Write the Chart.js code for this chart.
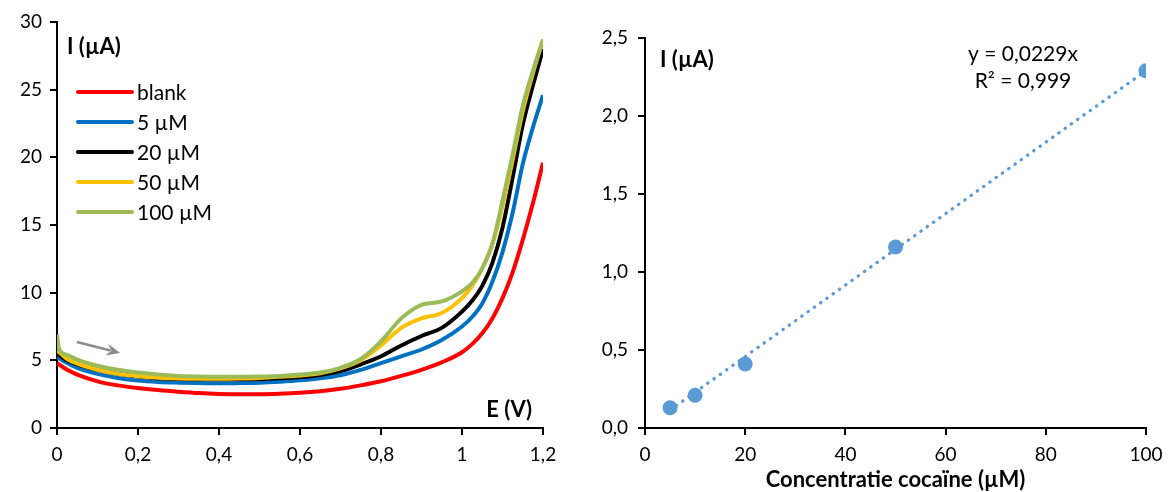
<!DOCTYPE html>
<html><head><meta charset="utf-8">
<script src="https://cdn.jsdelivr.net/npm/chart.js@4.4.0/dist/chart.umd.min.js"></script>
<style>
html,body{margin:0;padding:0;background:#fff;width:1172px;height:492px;overflow:hidden}
#c1{position:absolute;left:0;top:0}
#c2{position:absolute;left:580px;top:0}
</style></head><body>
<canvas id="c1" width="580" height="492"></canvas>
<canvas id="c2" width="592" height="492"></canvas>
<script>
// ---- Left chart: voltammograms ----
const potential = [0, 0.005, 0.025, 0.05, 0.1, 0.15, 0.2, 0.25, 0.3, 0.35, 0.4, 0.45, 0.5, 0.55, 0.6, 0.65, 0.7, 0.75, 0.8, 0.85, 0.9, 0.95, 1.0, 1.025, 1.05, 1.075, 1.1, 1.125, 1.15, 1.175, 1.2];
const blank  = [4.8, 4.7, 4.3, 3.95, 3.45, 3.15, 2.95, 2.8, 2.68, 2.58, 2.52, 2.5, 2.5, 2.53, 2.6, 2.72, 2.9, 3.15, 3.45, 3.85, 4.3, 4.85, 5.6, 6.2, 7.0, 8.1, 9.6, 11.5, 13.9, 16.6, 19.6];
const c5uM   = [5.25, 5.15, 4.8, 4.45, 4.0, 3.7, 3.5, 3.4, 3.35, 3.32, 3.3, 3.32, 3.35, 3.42, 3.52, 3.68, 3.9, 4.3, 4.8, 5.3, 5.8, 6.5, 7.5, 8.2, 9.2, 10.8, 13.0, 15.9, 19.5, 22.2, 24.6];
const c20uM  = [5.5, 5.4, 5.0, 4.7, 4.3, 4.0, 3.8, 3.68, 3.62, 3.6, 3.6, 3.6, 3.62, 3.68, 3.76, 3.92, 4.2, 4.7, 5.3, 6.1, 6.8, 7.4, 8.6, 9.4, 10.5, 12.2, 14.8, 18.5, 22.4, 25.3, 28.0];
const c50uM  = [5.7, 5.6, 5.1, 4.75, 4.3, 4.0, 3.82, 3.72, 3.66, 3.64, 3.64, 3.66, 3.7, 3.78, 3.88, 4.05, 4.4, 5.0, 6.1, 7.4, 8.1, 8.5, 9.6, 10.5, 11.8, 13.6, 16.4, 19.8, 23.4, 26.2, 28.7];
const c100uM = [6.9, 5.85, 5.4, 5.05, 4.6, 4.3, 4.1, 3.95, 3.85, 3.8, 3.78, 3.78, 3.8, 3.85, 3.95, 4.1, 4.45, 5.1, 6.4, 8.1, 9.1, 9.35, 10.1, 10.7, 11.8, 13.6, 16.8, 20.2, 23.8, 26.4, 28.7];
const seriesNames = ['blank', '5 µM', '20 µM', '50 µM', '100 µM'];
const seriesColors = ['#FF0000', '#0070C0', '#000000', '#FFC000', '#9BBB59'];
const arrowFrom = [0.049, 6.35];
const arrowTo = [0.156, 5.54];

// ---- Right chart: calibration ----
const concentrations = [5, 10, 20, 50, 100];
const peakCurrents = [0.13, 0.21, 0.41, 1.16, 2.29];
const trendX = [5, 100];
const trendY = [0.1145, 2.29];
const equationLines = ['y = 0,0229x', 'R² = 0,999'];

const FONT = 'Lato, "Open Sans", sans-serif';
Chart.defaults.font.family = FONT;
Chart.defaults.color = '#000';

const comma = v => String(v).replace('.', ',');

function axisCommon(extra) {
  return Object.assign({
    type: 'linear',
    grid: { drawOnChartArea: false, drawTicks: true, tickLength: 7, color: '#000', lineWidth: 2 },
    border: { color: '#000', width: 2 }
  }, extra);
}

const allSeries = [blank, c5uM, c20uM, c50uM, c100uM];
const leftDatasets = allSeries.map((arr, i) => ({
  label: seriesNames[i],
  data: potential.map((e, k) => ({ x: e, y: arr[k] })),
  borderColor: seriesColors[i],
  backgroundColor: seriesColors[i],
  borderWidth: 4,
  pointRadius: 0,
  cubicInterpolationMode: 'monotone',
  fill: false,
  order: 5 - i
}));

const leftDeco = {
  id: 'leftDeco',
  afterDatasetsDraw(chart) {
    const { ctx, chartArea: a, scales } = chart;
    ctx.save();
    // arrow
    const x1 = scales.x.getPixelForValue(arrowFrom[0]), y1 = scales.y.getPixelForValue(arrowFrom[1]);
    const x2 = scales.x.getPixelForValue(arrowTo[0]), y2 = scales.y.getPixelForValue(arrowTo[1]);
    const ang = Math.atan2(y2 - y1, x2 - x1);
    const hl = 14, hw = 6;
    const bx = x2 - hl * Math.cos(ang), by = y2 - hl * Math.sin(ang);
    ctx.strokeStyle = '#8C8C8C'; ctx.fillStyle = '#8C8C8C'; ctx.lineWidth = 2.5;
    ctx.beginPath(); ctx.moveTo(x1, y1); ctx.lineTo(bx + 4 * Math.cos(ang), by + 4 * Math.sin(ang)); ctx.stroke();
    ctx.beginPath();
    ctx.moveTo(x2, y2);
    ctx.lineTo(bx - hw * Math.sin(ang), by + hw * Math.cos(ang));
    ctx.lineTo(bx + 5 * Math.cos(ang), by + 5 * Math.sin(ang));
    ctx.lineTo(bx + hw * Math.sin(ang), by - hw * Math.cos(ang));
    ctx.closePath(); ctx.fill();
    // axis labels
    ctx.fillStyle = '#000';
    ctx.font = 'bold 22px ' + FONT;
    ctx.textBaseline = 'middle';
    ctx.textAlign = 'left';
    ctx.fillText('I (µA)', a.left + 10, a.top + 25);
    ctx.textAlign = 'right';
    ctx.fillText('E (V)', a.right - 11, a.bottom - 18);
    // legend
    ctx.font = '21px ' + FONT;
    ctx.textAlign = 'left';
    seriesNames.forEach((n, i) => {
      const y = a.top + 70 + i * 30;
      ctx.strokeStyle = seriesColors[i]; ctx.lineWidth = 4; ctx.lineCap = 'round';
      ctx.beginPath(); ctx.moveTo(a.left + 21, y); ctx.lineTo(a.left + 75, y); ctx.stroke();
      ctx.fillStyle = '#000';
      ctx.fillText(n, a.left + 80, y + 1);
    });
    ctx.restore();
  }
};

new Chart(document.getElementById('c1'), {
  type: 'line',
  data: { datasets: leftDatasets },
  options: {
    responsive: false, animation: false,
    layout: { padding: { top: 22, right: 37, left: 0, bottom: 0 } },
    plugins: { legend: { display: false }, tooltip: { enabled: false } },
    scales: {
      x: axisCommon({
        min: 0, max: 1.2,
        ticks: { stepSize: 0.2, padding: 8, font: { size: 19 }, maxRotation: 0,
          callback: v => comma(+v.toFixed(1)) },
        afterFit: s => { s.height = 64; }
      }),
      y: axisCommon({
        min: 0, max: 30,
        ticks: { stepSize: 5, padding: 8, font: { size: 19 } },
        afterFit: s => { s.width = 57; }
      })
    }
  },
  plugins: [leftDeco]
});

const rightDeco = {
  id: 'rightDeco',
  afterDatasetsDraw(chart) {
    const { ctx, chartArea: a } = chart;
    ctx.save();
    ctx.fillStyle = '#000';
    ctx.textBaseline = 'middle';
    ctx.font = 'bold 22px ' + FONT;
    ctx.textAlign = 'left';
    ctx.fillText('I (µA)', a.left + 15, a.top + 22);
    ctx.textAlign = 'center';
    ctx.fillText('Concentratie cocaïne (µM)', (a.left + a.right) / 2, a.bottom + 52);
    ctx.font = '21px ' + FONT;
    ctx.fillText(equationLines[0], a.left + 378, a.top + 16);
    ctx.fillText(equationLines[1], a.left + 378, a.top + 43);
    ctx.restore();
  }
};

new Chart(document.getElementById('c2'), {
  type: 'scatter',
  data: {
    datasets: [
      {
        label: 'data',
        data: concentrations.map((c, i) => ({ x: c, y: peakCurrents[i] })),
        backgroundColor: '#5B9BD5', borderWidth: 0, pointRadius: 7.5, showLine: false, order: 0
      },
      {
        label: 'trend', type: 'line',
        data: trendX.map((c, i) => ({ x: c, y: trendY[i] })),
        borderColor: '#5B9BD5', borderWidth: 3.2, borderDash: [0.5, 7.2], borderCapStyle: 'round',
        pointRadius: 0, fill: false, order: 1
      }
    ]
  },
  options: {
    responsive: false, animation: false,
    layout: { padding: { top: 38, right: 26, left: 0, bottom: 0 } },
    plugins: { legend: { display: false }, tooltip: { enabled: false } },
    scales: {
      x: axisCommon({
        min: 0, max: 100,
        ticks: { stepSize: 20, padding: 8, font: { size: 19 }, maxRotation: 0 },
        afterFit: s => { s.height = 64; }
      }),
      y: axisCommon({
        min: 0, max: 2.5,
        ticks: { stepSize: 0.5, padding: 10, font: { size: 19 },
          callback: v => v.toFixed(1).replace('.', ',') },
        afterFit: s => { s.width = 65; }
      })
    }
  },
  plugins: [rightDeco]
});
</script>
</body></html>
